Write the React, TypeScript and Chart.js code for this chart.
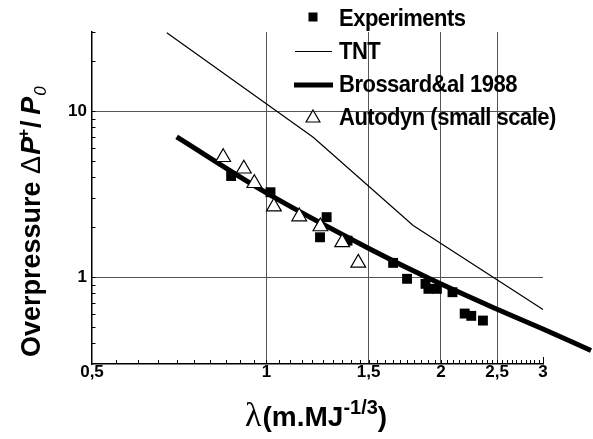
import React, { useEffect, useRef } from 'react';
import { Chart, registerables } from 'chart.js';

Chart.register(...registerables);

// ---- data ----
const experimentsX = [0.869, 1.016, 1.27, 1.237, 1.38, 1.654, 1.748, 1.881, 1.903, 1.968, 2.094, 2.198, 2.256, 2.363];
const experimentsY = [4.07, 3.25, 2.3, 1.74, 1.66, 1.22, 0.978, 0.912, 0.851, 0.851, 0.812, 0.604, 0.585, 0.548];

const autodynX = [0.842, 0.914, 0.953, 1.03, 1.139, 1.239, 1.351, 1.44];
const autodynY = [5.28, 4.5, 3.68, 2.66, 2.32, 2.02, 1.62, 1.22];

const tntX = [0.673, 1.204, 1.791, 3.0];
const tntY = [29.7, 6.97, 2.05, 0.639];

const brossardX = [0.7, 1.0, 1.508, 1.914, 2.495, 3.0, 3.63];
const brossardY = [7.0, 3.22, 1.48, 0.978, 0.643, 0.487, 0.362];

const xTickValues = [0.5, 1, 1.5, 2, 2.5, 3];
const xTickLabels = ['0,5', '1', '1,5', '2', '2,5', '3'];
const xGridValues = [1, 1.5, 2, 2.5];
const xMinorStep = 0.05;

const yTickValues = [1, 10];
const yTickLabels = ['1', '10'];
const yGridValues = [1, 10];

const legendLabels = ['Experiments', 'TNT', 'Brossard&al 1988', 'Autodyn (small scale)'];

const X_MIN = 0.5, X_MAX = 3;
const Y_MIN = 0.3, Y_MAX = 30;

const SANS = '"Liberation Sans", Arial, Helvetica, sans-serif';
const SERIF = '"Liberation Serif", "Times New Roman", serif';

const r4 = (v: number) => Math.round(v * 10000) / 10000;

function xTickList(): number[] {
  const out: number[] = [];
  const n = Math.round((X_MAX - X_MIN) / xMinorStep);
  for (let i = 0; i <= n; i++) out.push(r4(X_MIN + i * xMinorStep));
  return out;
}
function yTickList(): number[] {
  const out: number[] = [];
  for (const d of [0.1, 1, 10]) {
    for (let m = 1; m <= 9; m++) {
      const v = r4(m * d);
      if (v >= Y_MIN - 1e-9 && v <= Y_MAX + 1e-9) out.push(v);
    }
  }
  return out;
}

const pts = (xs: number[], ys: number[]) => xs.map((x, i) => ({ x, y: ys[i] }));

const inwardTicks = {
  id: 'inwardTicks',
  beforeDatasetsDraw(chart: any) {
    const { ctx, chartArea } = chart;
    const xs = chart.scales.x;
    const ys = chart.scales.y;
    ctx.save();
    ctx.strokeStyle = '#000';
    ctx.lineWidth = 1;
    ctx.beginPath();
    xs.ticks.forEach((t: any) => {
      const v = r4(t.value);
      if (v === X_MIN) return;
      const px = Math.round(xs.getPixelForValue(v)) + 0.5;
      const len = v === X_MAX ? 7 : 4;
      ctx.moveTo(px, chartArea.bottom);
      ctx.lineTo(px, chartArea.bottom - len);
    });
    ys.ticks.forEach((t: any) => {
      const v = r4(t.value);
      if (v === Y_MIN) return;
      const py = Math.round(ys.getPixelForValue(v)) + 0.5;
      ctx.moveTo(chartArea.left, py);
      ctx.lineTo(chartArea.left + 3.5, py);
    });
    ctx.stroke();
    ctx.restore();
  },
};

function drawSeq(ctx: CanvasRenderingContext2D, parts: { t: string; f: string; dy?: number; dx?: number }[], x0: number, y0: number) {
  let x = x0;
  for (const p of parts) {
    ctx.font = p.f;
    x += p.dx || 0;
    ctx.fillText(p.t, x, y0 + (p.dy || 0));
    x += ctx.measureText(p.t).width;
  }
}

const titlesAndLegend = {
  id: 'titlesAndLegend',
  afterDraw(chart: any) {
    const ctx: CanvasRenderingContext2D = chart.ctx;
    const ds = chart.data.datasets;
    ctx.save();
    ctx.fillStyle = '#000';
    ctx.textBaseline = 'alphabetic';
    ctx.textAlign = 'left';

    // ---- y axis title (rotated) ----
    ctx.save();
    ctx.translate(40, 357);
    ctx.rotate(-Math.PI / 2);
    drawSeq(ctx, [
      { t: 'Overpressure ', f: `bold 27px ${SANS}` },
      { t: '\u0394', f: `27px ${SANS}` },
      { t: 'P', f: `italic bold 27px ${SANS}`, dx: 1 },
      { t: '+', f: `bold 17px ${SANS}`, dy: -11, dx: -2 },
      { t: '/', f: `bold 27px ${SANS}`, dx: 1 },
      { t: ' ', f: `bold 20px ${SANS}` },
      { t: 'P', f: `italic bold 27px ${SANS}` },
      { t: '0', f: `italic 17px ${SANS}`, dy: 6, dx: 1 },
    ], 0, 0);
    ctx.restore();

    // ---- x axis title ----
    drawSeq(ctx, [
      { t: '\u03bb', f: `34px ${SERIF}` },
      { t: '(m.MJ', f: `bold 28px ${SANS}`, dx: 1 },
      { t: '-1/3', f: `bold 20px ${SANS}`, dy: -12 },
      { t: ')', f: `bold 28px ${SANS}` },
    ], 245, 426);

    // ---- legend ----
    const textX = 339;
    const baselines = [26, 58.5, 91.5, 125];
    const mids = [17, 51.5, 85, 118];
    ctx.font = `bold 22px ${SANS}`;
    (ctx as any).letterSpacing = '-0.5px';
    legendLabels.forEach((lab, i) => {
      ctx.save();
      ctx.translate(textX, baselines[i]);
      ctx.scale(1, 1.08);
      ctx.fillText(lab, 0, 0);
      ctx.restore();
    });
    (ctx as any).letterSpacing = '0px';

    // markers (styles from datasets)
    const exp = ds[0];
    ctx.fillStyle = exp.backgroundColor;
    ctx.fillRect(313 - 4.5, mids[0] - 4.5, 9, 9);

    const tnt = ds[1];
    ctx.strokeStyle = tnt.borderColor;
    ctx.lineWidth = tnt.borderWidth;
    ctx.beginPath();
    ctx.moveTo(295, mids[1]);
    ctx.lineTo(332, mids[1]);
    ctx.stroke();

    const bro = ds[2];
    ctx.strokeStyle = bro.borderColor;
    ctx.lineWidth = bro.borderWidth;
    ctx.beginPath();
    ctx.moveTo(294, mids[2]);
    ctx.lineTo(333, mids[2]);
    ctx.stroke();

    const au = ds[3];
    const r = 8;
    const cx = 313, cy = mids[3];
    ctx.beginPath();
    ctx.moveTo(cx, cy - r);
    ctx.lineTo(cx + r * 0.866, cy + r / 2);
    ctx.lineTo(cx - r * 0.866, cy + r / 2);
    ctx.closePath();
    ctx.fillStyle = au.backgroundColor;
    ctx.fill();
    ctx.strokeStyle = au.borderColor;
    ctx.lineWidth = au.borderWidth;
    ctx.stroke();

    ctx.restore();
  },
};

export default function App() {
  const ref = useRef<HTMLCanvasElement>(null);

  useEffect(() => {
    if (!ref.current) return;
    const xTicksAll = xTickList();
    const yTicksAll = yTickList();

    const chart = new Chart(ref.current, {
      type: 'scatter',
      data: {
        datasets: [
          {
            label: legendLabels[0],
            data: pts(experimentsX, experimentsY),
            pointStyle: 'rect',
            pointRadius: 7,
            backgroundColor: '#000',
            borderColor: '#000',
            borderWidth: 0,
            showLine: false,
            order: 1,
          },
          {
            label: legendLabels[1],
            data: pts(tntX, tntY),
            showLine: true,
            borderColor: '#000',
            borderWidth: 1.2,
            pointRadius: 0,
            backgroundColor: '#000',
            order: 3,
          },
          {
            label: legendLabels[2],
            data: pts(brossardX, brossardY),
            showLine: true,
            borderColor: '#000',
            borderWidth: 5,
            pointRadius: 0,
            backgroundColor: '#000',
            cubicInterpolationMode: 'monotone',
            clip: false,
            order: 2,
          },
          {
            label: legendLabels[3],
            data: pts(autodynX, autodynY),
            pointStyle: 'triangle',
            pointRadius: 8.5,
            backgroundColor: '#fff',
            borderColor: '#000',
            borderWidth: 1.2,
            showLine: false,
            order: 0,
          },
        ] as any,
      },
      options: {
        animation: false,
        responsive: false,
        devicePixelRatio: 1,
        layout: { padding: { top: 32, right: 50, left: 0, bottom: 0 } },
        plugins: { legend: { display: false }, tooltip: { enabled: false } },
        scales: {
          x: {
            type: 'logarithmic',
            bounds: 'data',
            afterDataLimits: (scale: any) => {
              scale.min = X_MIN;
              scale.max = X_MAX;
            },
            afterBuildTicks: (scale: any) => {
              scale.ticks = xTicksAll.map((v) => ({ value: v }));
            },
            afterFit: (scale: any) => {
              scale.height = 439 - 364;
            },
            border: { display: true, color: '#000', width: 1.5 },
            grid: {
              drawTicks: false,
              lineWidth: 1,
              color: (c: any) => (c.tick && xGridValues.includes(r4(c.tick.value)) ? '#555' : 'rgba(0,0,0,0)'),
            },
            ticks: {
              autoSkip: false,
              maxRotation: 0,
              padding: -2,
              color: '#000',
              font: { family: SANS, size: 17, weight: 'bold' },
              callback: (v: any) => {
                const i = xTickValues.indexOf(r4(Number(v)));
                return i >= 0 ? xTickLabels[i] : '';
              },
            },
          },
          y: {
            type: 'logarithmic',
            min: Y_MIN,
            max: Y_MAX,
            afterBuildTicks: (scale: any) => {
              scale.ticks = yTicksAll.map((v) => ({ value: v }));
            },
            afterFit: (scale: any) => {
              scale.width = 92;
            },
            border: { display: true, color: '#000', width: 1.5 },
            grid: {
              drawTicks: false,
              lineWidth: 1,
              color: (c: any) => (c.tick && yGridValues.includes(r4(c.tick.value)) ? '#555' : 'rgba(0,0,0,0)'),
            },
            ticks: {
              autoSkip: false,
              padding: 5,
              color: '#000',
              font: { family: SANS, size: 17, weight: 'bold' },
              callback: (v: any) => {
                const i = yTickValues.indexOf(r4(Number(v)));
                return i >= 0 ? yTickLabels[i] : '';
              },
            },
          },
        },
      } as any,
      plugins: [inwardTicks, titlesAndLegend],
    });
    return () => chart.destroy();
  }, []);

  return (
    <div style={{ position: 'fixed', left: 0, top: 0, width: 593, height: 439, background: '#fff' }}>
      <canvas ref={ref} width={593} height={439} style={{ display: 'block' }} />
    </div>
  );
}
